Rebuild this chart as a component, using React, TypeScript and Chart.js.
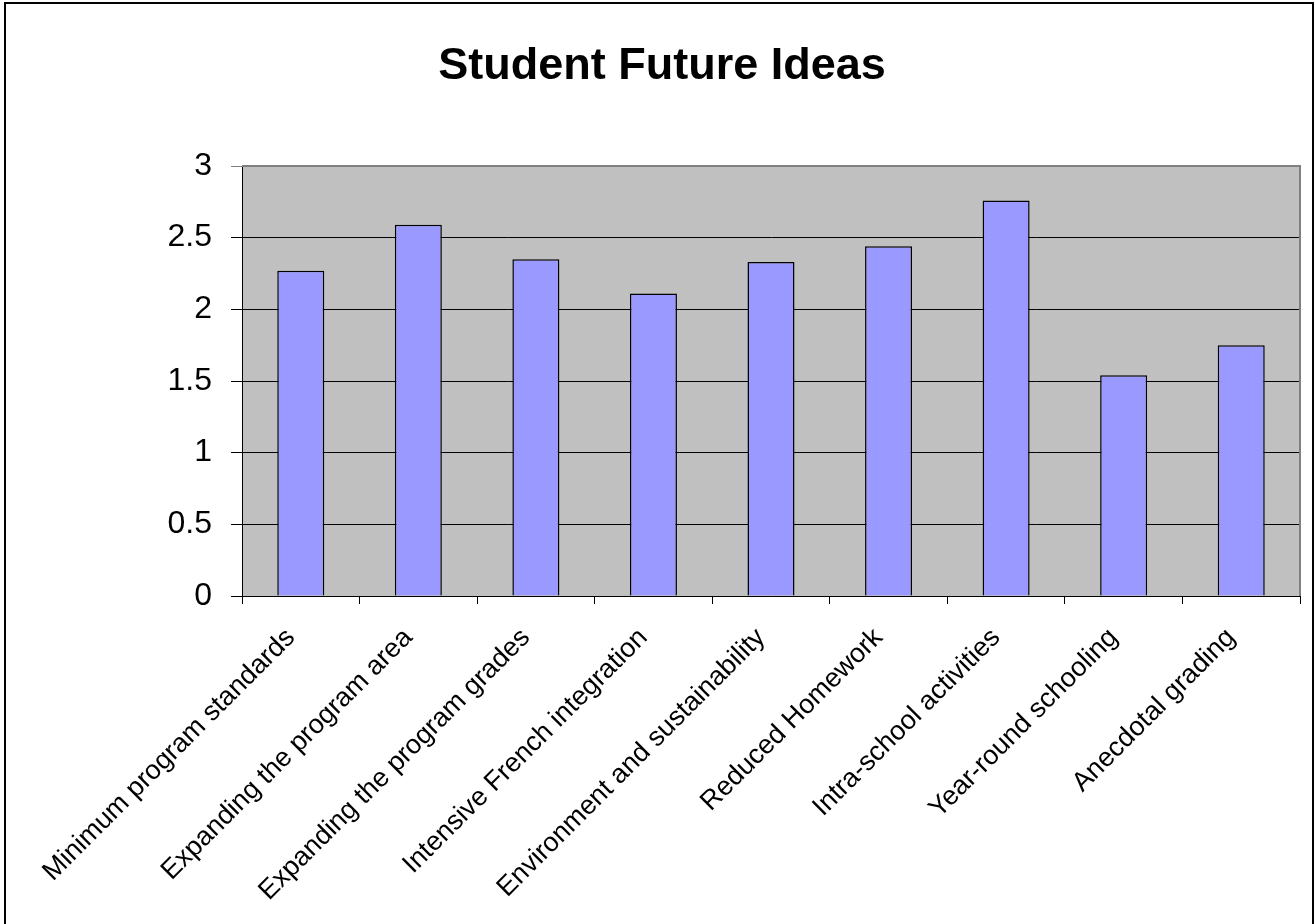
import React, { useEffect, useRef } from 'react';
import { Chart, registerables } from 'chart.js';

Chart.register(...registerables);

const chartTitle = 'Student Future Ideas';
const categories = [
  'Minimum program standards',
  'Expanding the program area',
  'Expanding the program grades',
  'Intensive French integration',
  'Environment and sustainability',
  'Reduced Homework',
  'Intra-school activities',
  'Year-round schooling',
  'Anecdotal grading',
];
const values = [2.27, 2.59, 2.35, 2.11, 2.33, 2.44, 2.76, 1.54, 1.75];
const yMin = 0;
const yMax = 3;
const yStep = 0.5;

const FONT = "'Liberation Sans', Arial, sans-serif";

const framePlugin = {
  id: 'frame',
  beforeDraw(chart: any) {
    const { ctx, chartArea } = chart;
    const { left, top, right, bottom } = chartArea;
    ctx.save();
    ctx.fillStyle = '#ffffff';
    ctx.fillRect(0, 0, chart.width, chart.height);
    ctx.fillStyle = '#c0c0c0';
    ctx.fillRect(left, top, right - left, bottom - top);
    ctx.restore();
  },
  beforeDatasetsDraw(chart: any) {
    const { ctx, chartArea } = chart;
    const { left, top, right, bottom } = chartArea;
    ctx.save();
    ctx.strokeStyle = '#808080';
    ctx.lineWidth = 2;
    ctx.beginPath();
    ctx.moveTo(left, top);
    ctx.lineTo(right, top);
    ctx.lineTo(right, bottom);
    ctx.stroke();
    ctx.restore();
  },
  afterDraw(chart: any) {
    const { ctx } = chart;
    ctx.save();
    ctx.strokeStyle = '#000000';
    ctx.lineWidth = 2;
    ctx.beginPath();
    ctx.moveTo(5, chart.height + 5);
    ctx.lineTo(5, 3);
    ctx.lineTo(1313, 3);
    ctx.lineTo(1313, chart.height + 5);
    ctx.stroke();
    ctx.restore();
  },
};

export default function App() {
  const ref = useRef<HTMLCanvasElement | null>(null);

  useEffect(() => {
    if (!ref.current) return;
    const chart = new Chart(ref.current, {
      type: 'bar',
      data: {
        labels: categories,
        datasets: [
          {
            data: values,
            backgroundColor: '#9999ff',
            borderColor: '#000000',
            borderWidth: 1.5,
            barPercentage: 0.4,
            categoryPercentage: 1,
          },
        ],
      },
      options: {
        animation: false,
        responsive: false,
        maintainAspectRatio: false,
        layout: { padding: { left: 24, right: 15, top: 0, bottom: 0 } },
        plugins: {
          legend: { display: false },
          tooltip: { enabled: false },
          title: {
            display: true,
            text: chartTitle,
            color: '#000000',
            font: { family: FONT, size: 45, weight: 'bold' },
            padding: { top: 40, bottom: 72 },
          },
        },
        scales: {
          x: {
            type: 'category',
            offset: true,
            grid: {
              offset: true,
              drawOnChartArea: false,
              drawTicks: true,
              tickLength: 8,
              color: '#000000',
            },
            border: { display: true, color: '#000000', width: 1 },
            ticks: {
              autoSkip: false,
              maxRotation: 45,
              minRotation: 45,
              color: '#000000',
              padding: 18,
              labelOffset: -10,
              font: { family: FONT, size: 27 },
            },
            afterFit(scale: any) {
              scale.height = 924 - 596;
            },
          },
          y: {
            min: yMin,
            max: yMax,
            ticks: {
              stepSize: yStep,
              color: '#000000',
              padding: 19,
              font: { family: FONT, size: 32 },
              callback: (v: any) => String(v),
            },
            grid: {
              color: (c: any) => (c.tick && c.tick.value === yMax ? '#808080' : '#000000'),
              tickLength: 11,
              lineWidth: 1,
            },
            border: { display: true, color: '#000000', width: 1 },
            afterFit(scale: any) {
              scale.width = 242 - 24;
            },
          },
        },
      },
      plugins: [framePlugin],
    } as any);
    return () => chart.destroy();
  }, []);

  return (
    <div style={{ position: 'absolute', left: 0, top: 0, width: 1315, height: 924, background: '#fff' }}>
      <canvas ref={ref} width={1315} height={924} style={{ display: 'block' }} />
    </div>
  );
}
